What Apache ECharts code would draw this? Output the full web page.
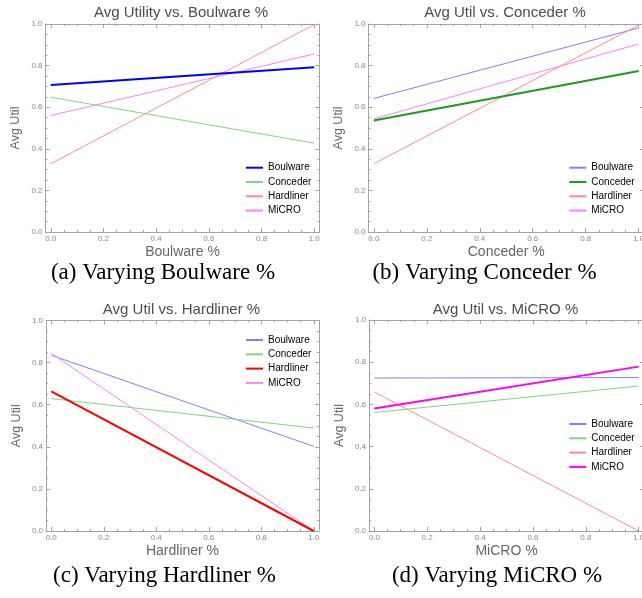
<!DOCTYPE html>
<html><head><meta charset="utf-8">
<script src="https://cdn.jsdelivr.net/npm/echarts@6/dist/echarts.min.js"></script>
<style>html,body{margin:0;padding:0;background:#fff}#c{width:642px;height:598px}</style>
</head><body><div id="c"></div>
<script>
// ---------- data ----------
const xValues = [0, 1];
const strategies = ['Boulware', 'Conceder', 'Hardliner', 'MiCRO'];
const panelKeys = ['a', 'b', 'c', 'd'];
const panelTitles = ['Avg Utility vs. Boulware %', 'Avg Util vs. Conceder %', 'Avg Util vs. Hardliner %', 'Avg Util vs. MiCRO %'];
const xAxisNames = ['Boulware %', 'Conceder %', 'Hardliner %', 'MiCRO %'];
const captions = ['(a) Varying Boulware %', '(b) Varying Conceder %', '(c) Varying Hardliner %', '(d) Varying MiCRO %'];
const yAxisName = 'Avg Util';
const majorTicks = [0, 0.2, 0.4, 0.6, 0.8, 1.0];
const minorTicks = [0.05, 0.1, 0.15, 0.25, 0.3, 0.35, 0.45, 0.5, 0.55, 0.65, 0.7, 0.75, 0.85, 0.9, 0.95];

// (a) varying Boulware %
const aBoulware = [0.707, 0.792];
const aConceder = [0.648, 0.427];
const aHardliner = [0.328, 0.997];
const aMiCRO = [0.560, 0.856];
// (b) varying Conceder %
const bBoulware = [0.642, 0.981];
const bConceder = [0.536, 0.774];
const bHardliner = [0.328, 0.995];
const bMiCRO = [0.544, 0.904];
// (c) varying Hardliner %
const cBoulware = [0.835, 0.402];
const cConceder = [0.629, 0.489];
const cHardliner = [0.663, 0.0];
const cMiCRO = [0.844, 0.0];
// (d) varying MiCRO %
const dBoulware = [0.725, 0.727];
const dConceder = [0.562, 0.687];
const dHardliner = [0.659, 0.0];
const dMiCRO = [0.581, 0.779];

const panelData = [
  [aBoulware, aConceder, aHardliner, aMiCRO],
  [bBoulware, bConceder, bHardliner, bMiCRO],
  [cBoulware, cConceder, cHardliner, cMiCRO],
  [dBoulware, dConceder, dHardliner, dMiCRO]
];

// ---------- styles / layout ----------
const thickColors = ['#0000ff', '#1a9e1a', '#ff0000', '#ff00ff'];
const thinColors = ['#8080ff', '#80d480', '#ff8c8c', '#ff80ff'];
const grids = [
  {left: 45.5, top: 24, width: 274, height: 208},
  {left: 368.5, top: 24, width: 275.5, height: 208},
  {left: 46, top: 320.5, width: 273, height: 210.5},
  {left: 369, top: 320, width: 275, height: 211}
];
const titlePos = [[181, 12.5], [505, 12.5], [181.5, 310], [505.5, 310]];
const captionPos = [[163, 273], [484.5, 273], [164.5, 575.5], [497, 575.5]];
const legendPos = [[245, 162.7], [568.3, 162.7], [245, 335], [568.3, 419]];

const frameColor = '#a3a3a3';
const sans = 'Liberation Sans, Arial, sans-serif';

const option = {
  backgroundColor: '#ffffff',
  animation: false,
  title: [], grid: [], xAxis: [], yAxis: [], series: [], legend: []
};

panelKeys.forEach((k, i) => {
  option.grid.push(Object.assign({show: false, containLabel: false, outerBoundsMode: 'none'}, grids[i]));
  option.title.push({
    text: panelTitles[i], left: titlePos[i][0], top: titlePos[i][1],
    textAlign: 'center', textVerticalAlign: 'middle', padding: 0,
    textStyle: {fontFamily: sans, fontSize: 15, fontWeight: 'normal', color: '#4d4d4d'}
  });
  option.title.push({
    text: captions[i], left: captionPos[i][0], top: captionPos[i][1],
    textAlign: 'center', textVerticalAlign: 'middle', padding: 0,
    textStyle: {fontFamily: 'Liberation Serif, Times New Roman, serif', fontSize: 23, fontWeight: 'normal', color: '#000'}
  });
  const xBase = {
    type: 'value', gridIndex: i, min: -0.02, max: 1.02,
    splitLine: {show: false}
  };
  // bottom major (labels + name)
  option.xAxis.push(Object.assign({}, xBase, {
    position: 'bottom',
    axisLine: {show: true, onZero: false, lineStyle: {color: frameColor, width: 1}},
    axisTick: {show: true, inside: true, length: 4, customValues: majorTicks, lineStyle: {color: frameColor}},
    axisLabel: {show: true, customValues: majorTicks, margin: 3, fontSize: 8, color: '#888', fontFamily: sans,
      formatter: v => v.toFixed(1)},
    name: xAxisNames[i], nameLocation: 'middle', nameGap: 13,
    nameTextStyle: {fontSize: 14, color: '#666', fontFamily: sans}
  }));
  // bottom minor
  option.xAxis.push(Object.assign({}, xBase, {
    position: 'bottom',
    axisLine: {show: false, onZero: false},
    axisTick: {show: true, inside: true, length: 2, customValues: minorTicks, lineStyle: {color: frameColor}},
    axisLabel: {show: false}
  }));
  // top major
  option.xAxis.push(Object.assign({}, xBase, {
    position: 'top',
    axisLine: {show: true, onZero: false, lineStyle: {color: frameColor, width: 1}},
    axisTick: {show: true, inside: true, length: 4, customValues: majorTicks, lineStyle: {color: frameColor}},
    axisLabel: {show: false}
  }));
  // top minor
  option.xAxis.push(Object.assign({}, xBase, {
    position: 'top',
    axisLine: {show: false, onZero: false},
    axisTick: {show: true, inside: true, length: 2, customValues: minorTicks, lineStyle: {color: frameColor}},
    axisLabel: {show: false}
  }));
  const yBase = {
    type: 'value', gridIndex: i, min: 0, max: 1, interval: 0.2,
    splitLine: {show: false},
    axisLine: {show: true, onZero: false, lineStyle: {color: frameColor, width: 1}},
    axisTick: {show: true, inside: true, length: 4, lineStyle: {color: frameColor}},
    minorTick: {show: true, splitNumber: 4, length: 2, lineStyle: {color: frameColor}}
  };
  option.yAxis.push(Object.assign({}, yBase, {
    position: 'left',
    axisLabel: {show: true, margin: 3, fontSize: 8, color: '#888', fontFamily: sans, formatter: v => v.toFixed(1)},
    name: yAxisName, nameLocation: 'middle', nameGap: 23,
    nameTextStyle: {fontSize: 12.5, color: '#666', fontFamily: sans}
  }));
  option.yAxis.push(Object.assign({}, yBase, {
    position: 'right',
    axisLabel: {show: false}
  }));

  const names = [];
  strategies.forEach((s, j) => {
    const thick = (j === i);
    const nm = s + ' (' + k + ')';
    names.push(nm);
    option.series.push({
      type: 'line', name: nm, xAxisIndex: 4 * i, yAxisIndex: 2 * i,
      data: xValues.map((x, m) => [x, panelData[i][j][m]]),
      symbol: 'none', silent: true,
      z: thick ? 3 : 2,
      lineStyle: {color: thick ? thickColors[j] : thinColors[j], width: thick ? 2 : 1},
      itemStyle: {color: thick ? thickColors[j] : thinColors[j]}
    });
  });
  option.legend.push({
    data: names, orient: 'vertical', left: legendPos[i][0], top: legendPos[i][1],
    padding: 0, itemWidth: 17, itemHeight: 10, itemGap: 4.3,
    selectedMode: false,
    itemStyle: {color: 'rgba(0,0,0,0)', borderColor: 'rgba(0,0,0,0)', borderWidth: 0, opacity: 0},
    formatter: n => n.replace(/ \([a-d]\)$/, ''),
    textStyle: {fontSize: 10, lineHeight: 10, color: '#000', fontFamily: sans}
  });
});

const chart = echarts.init(document.getElementById('c'), null, {renderer: 'canvas'});
chart.setOption(option);
</script>
</body></html>
